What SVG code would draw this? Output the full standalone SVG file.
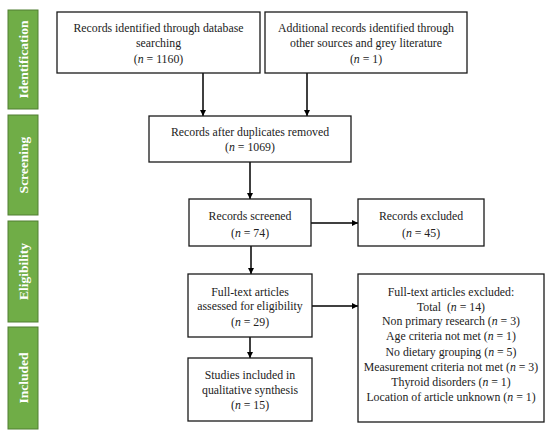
<svg xmlns="http://www.w3.org/2000/svg" width="550" height="435" viewBox="0 0 550 435">
<style>
.box{fill:#fff;stroke:#1a1a1a;stroke-width:1.3}
.bar{fill:#70ad47;stroke:#507e32;stroke-width:1}
.t{font-family:"Liberation Serif","Times New Roman",serif;font-size:11.8px;fill:#222;text-anchor:middle}
.b{font-family:"Liberation Serif","Times New Roman",serif;font-size:13.5px;font-weight:bold;fill:#fff;text-anchor:middle}
.c{stroke:#000;stroke-width:1.5;fill:none;marker-end:url(#ah)}
</style>
<defs>
<marker id="ah" viewBox="0 0 10 10" refX="10" refY="5" markerWidth="6" markerHeight="6" markerUnits="userSpaceOnUse" orient="auto"><path d="M0,0L10,5L0,10z" fill="#000"/></marker>
</defs>
<rect width="550" height="435" fill="#fff"/>
<g id="stage-identification"><rect class="bar" x="8" y="10" width="30" height="99"/><text class="b" transform="translate(27.5,59.5) rotate(-90)">Identification</text></g>
<g id="stage-screening"><rect class="bar" x="8" y="115" width="30" height="100"/><text class="b" transform="translate(27.5,165) rotate(-90)">Screening</text></g>
<g id="stage-eligibility"><rect class="bar" x="8" y="221" width="30" height="101"/><text class="b" transform="translate(27.5,271.5) rotate(-90)">Eligibility</text></g>
<g id="stage-included"><rect class="bar" x="8" y="327" width="30" height="102"/><text class="b" transform="translate(27.5,378) rotate(-90)">Included</text></g>
<g id="connectors">
<path class="c" d="M203,73V116"/>
<path class="c" d="M307,73V116"/>
<path class="c" d="M250,162V199"/>
<path class="c" d="M311,223H358"/>
<path class="c" d="M251,246V274"/>
<path class="c" d="M312,306H358"/>
<path class="c" d="M250,337V358"/>
</g>
<g id="n-db"><rect class="box" x="57" y="12" width="203" height="61"/><text class="t" x="158.5" y="32">Records identified through database</text><text class="t" x="158.5" y="47">searching</text><text class="t" x="158.5" y="63">(<tspan font-style="italic">n</tspan> = 1160)</text></g>
<g id="n-other"><rect class="box" x="265" y="12" width="202" height="61"/><text class="t" x="366" y="32">Additional records identified through</text><text class="t" x="366" y="47">other sources and grey literature</text><text class="t" x="366" y="63">(<tspan font-style="italic">n</tspan> = 1)</text></g>
<g id="n-dup"><rect class="box" x="149" y="116" width="202" height="46"/><text class="t" x="250" y="136">Records after duplicates removed</text><text class="t" x="250" y="151">(<tspan font-style="italic">n</tspan> = 1069)</text></g>
<g id="n-screened"><rect class="box" x="189" y="199" width="122" height="47"/><text class="t" x="250" y="220">Records screened</text><text class="t" x="250" y="237">(<tspan font-style="italic">n</tspan> = 74)</text></g>
<g id="n-excluded"><rect class="box" x="358" y="199" width="126" height="47"/><text class="t" x="421" y="220">Records excluded</text><text class="t" x="421" y="237">(<tspan font-style="italic">n</tspan> = 45)</text></g>
<g id="n-fulltext"><rect class="box" x="188" y="274" width="124" height="63"/><text class="t" x="250" y="296">Full-text articles</text><text class="t" x="250" y="310">assessed for eligibility</text><text class="t" x="250" y="326">(<tspan font-style="italic">n</tspan> = 29)</text></g>
<g id="n-ftexcluded"><rect class="box" x="358" y="274" width="186" height="148"/>
<text class="t" x="451" y="296">Full-text articles excluded:</text>
<text class="t" x="451" y="311">Total &#160;(<tspan font-style="italic">n</tspan> = 14)</text>
<text class="t" x="451" y="325">Non primary research (<tspan font-style="italic">n</tspan> = 3)</text>
<text class="t" x="451" y="340">Age criteria not met (<tspan font-style="italic">n</tspan> = 1)</text>
<text class="t" x="451" y="356">No dietary grouping (<tspan font-style="italic">n</tspan> = 5)</text>
<text class="t" x="451" y="371">Measurement criteria not met (<tspan font-style="italic">n</tspan> = 3)</text>
<text class="t" x="451" y="386">Thyroid disorders (<tspan font-style="italic">n</tspan> = 1)</text>
<text class="t" x="451" y="401">Location of article unknown (<tspan font-style="italic">n</tspan> = 1)</text></g>
<g id="n-included"><rect class="box" x="188" y="358" width="124" height="63"/><text class="t" x="250" y="379">Studies included in</text><text class="t" x="250" y="394">qualitative synthesis</text><text class="t" x="250" y="409">(<tspan font-style="italic">n</tspan> = 15)</text></g>
</svg>
